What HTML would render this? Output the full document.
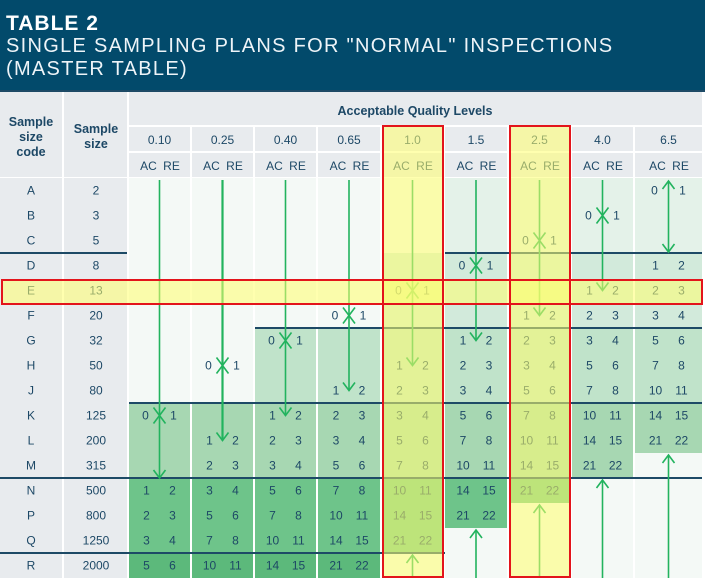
<!DOCTYPE html>
<html><head><meta charset="utf-8">
<style>
html,body{margin:0;padding:0;background:#fff;}
body{width:707px;height:580px;overflow:hidden;font-family:"Liberation Sans",sans-serif;}
#banner{position:absolute;left:0;top:0;width:705px;height:91px;background:#024a6b;color:#fff;}
#banner .t1{position:absolute;left:6px;top:12px;font-size:21px;font-weight:bold;letter-spacing:1px;}
#banner .t2{position:absolute;left:6px;top:35px;font-size:20px;letter-spacing:1.3px;line-height:23px;color:#eef4f8;}
svg{position:absolute;left:0;top:0;}
</style></head>
<body>
<div id="banner">
  <div class="t1">TABLE 2</div>
  <div class="t2">SINGLE SAMPLING PLANS FOR "NORMAL" INSPECTIONS<br>(MASTER TABLE)</div>
</div>
<svg id="tbl" width="707" height="580"></svg>
<script>
const rowCodes=['A','B','C','D','E','F','G','H','J','K','L','M','N','P','Q','R'];
const sampleSizes=['2','3','5','8','13','20','32','50','80','125','200','315','500','800','1250','2000'];
const aqlLevels=['0.10','0.25','0.40','0.65','1.0','1.5','2.5','4.0','6.5'];
const firstPlanRow=[9,7,6,5,4,3,2,1,0];
const acSeq=[0,1,2,3,5,7,10,14,21];
const reSeq=[1,2,3,4,6,8,11,15,22];
const shade=[
 [0,0,0,0,0,0,0,0,0,4,4,4,5,5,5,6],
 [0,0,0,0,0,0,0,0,0,4,4,4,5,5,5,6],
 [0,0,0,0,0,0,3,3,3,4,4,4,5,5,5,6],
 [0,0,0,0,0,0,3,3,3,4,4,4,5,5,5,6],
 [0,0,0,2,2,2,3,3,3,4,4,4,5,5,5,0],
 [1,1,1,2,2,2,3,3,3,4,4,4,5,5,0,0],
 [1,1,1,2,2,2,3,3,3,4,4,4,5,0,0,0],
 [1,1,1,2,2,2,3,3,3,4,4,4,0,0,0,0],
 [1,1,1,2,2,2,3,3,3,4,4,0,0,0,0,0]
];
const shadeColors=['#f4f9f6','#e4f2e9','#d2eadb','#c0e3ca','#a7d7b2','#6ec48a','#5cb97b'];
const downTip=[12,10.5,9.5,8.5,7.5,6.5,5.5,4.5,3];
const highlightCols=[4,6];
const highlightRow=4;

const svg=document.getElementById('tbl');
const NS='http://www.w3.org/2000/svg';
const colX=[129,192,255,318,382,445,509,572,635];
const colW=[61,61,61,62,61,62,61,61,67];
const rowTop=i=>178+25*i;
const rowY=i=>178+25*i+12.5;
const colC=j=>colX[j]+colW[j]/2;
function el(tag,attrs,parent){const e=document.createElementNS(NS,tag);for(const k in attrs)e.setAttribute(k,attrs[k]);(parent||svg).appendChild(e);return e;}
function txt(x,y,s,opt){const t=el('text',Object.assign({x:x,y:y,'text-anchor':'middle','font-size':12,fill:'#1d4866','font-family':'Liberation Sans, sans-serif'},opt||{}));t.textContent=s;return t;}

let h=el('rect',{x:0,y:92,width:62,height:85,fill:'#e8ebee'});


h=el('rect',{x:64,y:92,width:63,height:85,fill:'#e8ebee'});


h=el('rect',{x:129,y:92,width:573,height:33,fill:'#e8ebee'});


txt(31,126,'Sample',{'font-weight':'bold','font-size':12.5});
txt(31,141,'size',{'font-weight':'bold','font-size':12.5});
txt(31,156,'code',{'font-weight':'bold','font-size':12.5});
txt(96,133,'Sample',{'font-weight':'bold','font-size':12.5});
txt(96,148,'size',{'font-weight':'bold','font-size':12.5});
txt(415,115,'Acceptable Quality Levels',{'font-weight':'bold','font-size':12.5});
aqlLevels.forEach((a,j)=>{
  let r=el('rect',{x:colX[j],y:127,width:colW[j],height:24,fill:'#e8ebee'});
  
  
  el('rect',{x:colX[j],y:153,width:colW[j],height:24,fill:'#e8ebee'});
  txt(colC(j),144,a);
  txt(colC(j)-11,170,'AC');
  txt(colC(j)+12,170,'RE');
});
rowCodes.forEach((c,i)=>{
  let r=el('rect',{x:0,y:rowTop(i),width:62,height:25,fill:'#e8ebee'});
  
  
  el('rect',{x:64,y:rowTop(i),width:63,height:25,fill:'#e8ebee'});
  txt(31,rowY(i)+4,c);
  txt(96,rowY(i)+4,sampleSizes[i]);
});
aqlLevels.forEach((a,j)=>{
  for(let i=0;i<16;i++){
    let r=el('rect',{x:colX[j],y:rowTop(i),width:colW[j],height:25,fill:shadeColors[shade[j][i]]});
    
    
  }
});
[[253,0,127],[253,445,702],[328,255,702],[403,129,702],[478,0,702],[553,0,445],[91,0,705]].forEach(s=>{
  let l=el('line',{x1:s[1],x2:s[2],y1:s[0],y2:s[0],stroke:'#1d4a66','stroke-width':2});
  
  
});
const G='#22b35e';
function chev(cx,tip,dir){el('polyline',{points:`${cx-6},${tip-8*dir} ${cx},${tip} ${cx+6},${tip-8*dir}`,fill:'none',stroke:G,'stroke-width':1.6});}
aqlLevels.forEach((a,j)=>{
  const cx=colC(j);
  const f=firstPlanRow[j];
  if(j<8){
    const tip=178+25*downTip[j];
    let l=el('line',{x1:cx,x2:cx,y1:180,y2:tip,stroke:G,'stroke-width':j==1?2.2:1.6});
    
    
    chev(cx,tip,1);
    chev(cx,rowY(f),1);chev(cx,rowY(f),-1);
  } else {
    let l=el('line',{x1:cx,x2:cx,y1:181,y2:252,stroke:G,'stroke-width':1.6});
    
    
    chev(cx,181,-1);chev(cx,252,1);
  }
  let k=0;
  for(let i=0;i<16;i++){
    if(i===f){txt(cx-14,rowY(i)+4,String(acSeq[0]));txt(cx+14,rowY(i)+4,String(reSeq[0]));k=1;continue;}
    if(k>0 && i>f){
      const start=Math.round(downTip[j]-0.5);
      if(j===8 && i<3) continue;
      if(j<8 && i<start) continue;
      if(k<acSeq.length){
        txt(cx-13,rowY(i)+4,String(acSeq[k]));txt(cx+13,rowY(i)+4,String(reSeq[k]));
        if(k===acSeq.length-1 && i<15){
          const top=rowTop(i+1)+2;
          let l=el('line',{x1:cx,x2:cx,y1:top,y2:578,stroke:G,'stroke-width':1.6});
          
          
          chev(cx,top,-1);
        }
        k++;
      }
    }
  }
});
highlightCols.forEach(j=>{
  let r=el('rect',{x:colX[j],y:127,width:colW[j],height:451,fill:'rgba(255,255,110,0.55)'});
  
  
});
let hr=el('rect',{x:2,y:rowTop(highlightRow)+1,width:700,height:24,fill:'rgba(255,255,110,0.55)'});


highlightCols.forEach(j=>{
  let r=el('rect',{x:colX[j]+1,y:126,width:colW[j]-1,height:451,fill:'none',stroke:'#e3141b','stroke-width':2});
  
  
});
hr=el('rect',{x:2,y:rowTop(highlightRow)+2,width:700,height:24,fill:'none',stroke:'#e3141b','stroke-width':2});


</script>
</body></html>
